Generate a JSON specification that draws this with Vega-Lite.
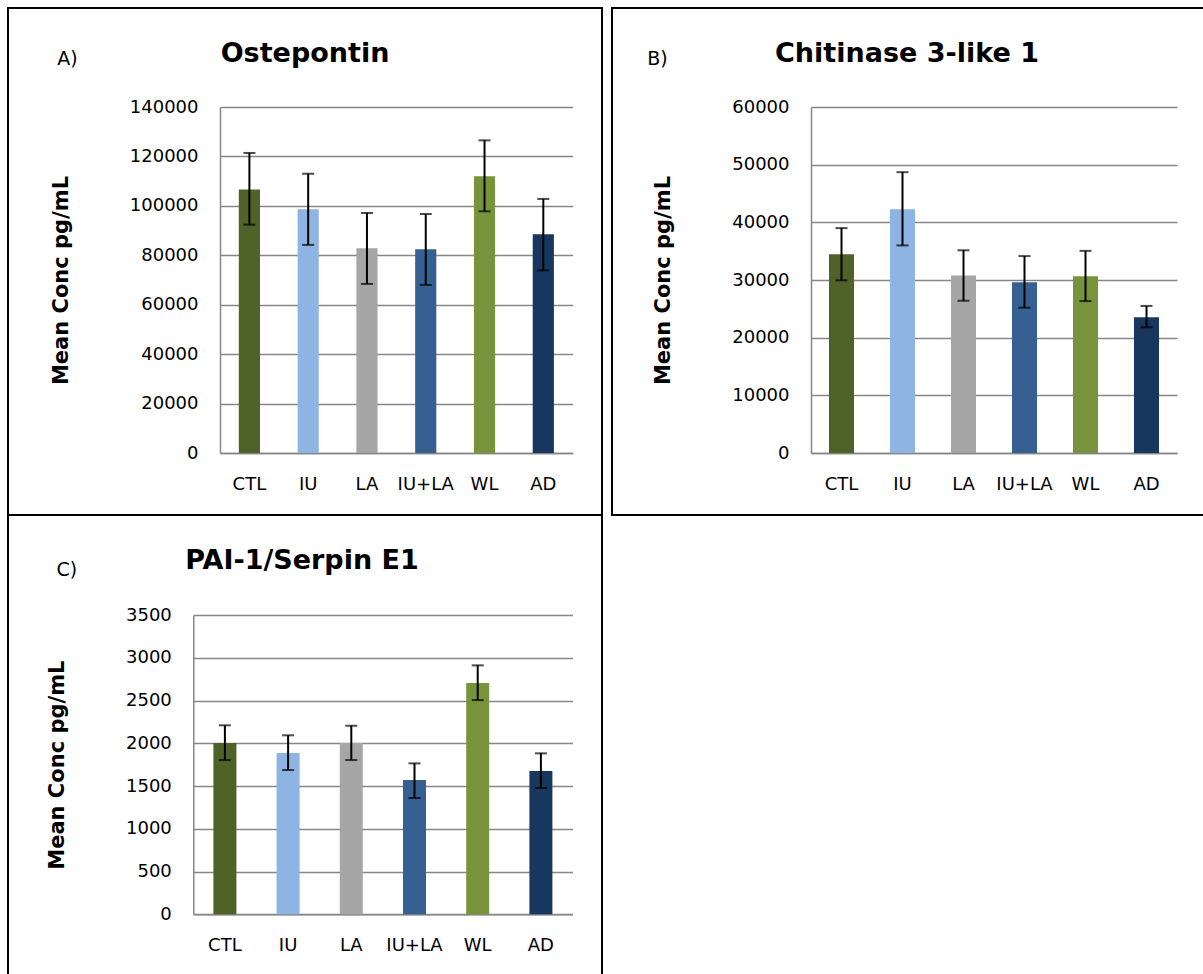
{
  "$schema": "https://vega.github.io/schema/vega-lite/v6.json",
  "padding": {"left": 7, "top": 7, "right": -2, "bottom": -2},
  "background": "white",
  "config": {
    "view": {"stroke": "black", "strokeWidth": 2, "fill": "white"},
    "font": "DejaVu Sans",
    "axis": {"labelFont": "DejaVu Sans", "labelFontSize": 18, "labelColor": "black", "titleFont": "DejaVu Sans", "titleFontSize": 21, "titleFontWeight": "bold", "titleColor": "black"},
    "title": {"font": "DejaVu Sans", "color": "black"}
  },
  "datasets": {
    "osteopontin": [
      {"group": "CTL", "mean": 106600, "lo": 92400, "hi": 121400},
      {"group": "IU", "mean": 98600, "lo": 84200, "hi": 113000},
      {"group": "LA", "mean": 82800, "lo": 68400, "hi": 97100},
      {"group": "IU+LA", "mean": 82400, "lo": 68000, "hi": 96700},
      {"group": "WL", "mean": 112000, "lo": 97800, "hi": 126500},
      {"group": "AD", "mean": 88500, "lo": 73900, "hi": 102800}
    ],
    "chitinase": [
      {"group": "CTL", "mean": 34450, "lo": 29950, "hi": 39000},
      {"group": "IU", "mean": 42250, "lo": 36000, "hi": 48700},
      {"group": "LA", "mean": 30800, "lo": 26400, "hi": 35150},
      {"group": "IU+LA", "mean": 29600, "lo": 25200, "hi": 34150},
      {"group": "WL", "mean": 30650, "lo": 26350, "hi": 35050},
      {"group": "AD", "mean": 23550, "lo": 21800, "hi": 25500}
    ],
    "pai1": [
      {"group": "CTL", "mean": 2003, "lo": 1804, "hi": 2210},
      {"group": "IU", "mean": 1886, "lo": 1687, "hi": 2093},
      {"group": "LA", "mean": 2003, "lo": 1804, "hi": 2205},
      {"group": "IU+LA", "mean": 1570, "lo": 1360, "hi": 1765},
      {"group": "WL", "mean": 2704, "lo": 2505, "hi": 2911},
      {"group": "AD", "mean": 1675, "lo": 1477, "hi": 1882}
    ]
  },
  "bounds": "flush",
  "columns": 2,
  "spacing": {"row": 0, "column": 10},
  "concat": [
    {
      "width": 594,
      "height": 507,
      "title": {"text": "Ostepontin", "anchor": "middle", "frame": "group", "orient": "top", "baseline": "alphabetic", "offset": -81, "fontSize": 27, "fontWeight": "bold"},
      "data": {"name": "osteopontin"},
      "resolve": {"axis": {"x": "independent"}},
      "layer": [
        {
          "encoding": {
            "x": {"field": "group", "type": "nominal", "sort": ["CTL", "IU", "LA", "IU+LA", "WL", "AD"],
              "scale": {"range": [212, 564.7], "paddingInner": 0, "paddingOuter": 0},
              "axis": {"title": null, "offset": -62, "labelAngle": 0, "labelPadding": 22, "ticks": false, "grid": false, "domainColor": "#868686", "domainWidth": 1.5}}
          },
          "layer": [
            {
              "mark": {"type": "bar", "width": {"band": 0.36}},
              "encoding": {
                "y": {"field": "mean", "type": "quantitative",
                  "scale": {"domain": [0, 140000], "range": [445, 99], "nice": false, "zero": true},
                  "axis": {"title": "Mean Conc pg/mL", "offset": -212, "values": [0, 20000, 40000, 60000, 80000, 100000, 120000, 140000], "format": "d", "ticks": false, "labelPadding": 22, "titlePadding": 58, "grid": true, "gridColor": "#868686", "gridWidth": 1.5, "domainColor": "#868686", "domainWidth": 1.5}},
                "color": {"field": "group", "type": "nominal", "scale": {"domain": ["CTL", "IU", "LA", "IU+LA", "WL", "AD"], "range": ["#4F6228", "#8EB4E3", "#A6A6A6", "#366092", "#77933C", "#17375E"]}, "legend": null}
              }
            },
            {
              "mark": {"type": "tick", "color": "black", "thickness": 2, "size": 12},
              "encoding": {"y": {"field": "lo", "type": "quantitative"}}
            },
            {
              "mark": {"type": "tick", "color": "black", "thickness": 2, "size": 12},
              "encoding": {"y": {"field": "hi", "type": "quantitative"}}
            }
          ]
        },
        {
          "mark": {"type": "rule", "color": "black", "strokeWidth": 2},
          "encoding": {
            "x": {"field": "group", "type": "nominal", "sort": ["CTL", "IU", "LA", "IU+LA", "WL", "AD"],
              "axis": {"orient": "top", "offset": 0, "labels": false, "ticks": false, "domain": false, "grid": false, "title": "A)", "titleX": 48.7, "titleY": 56.3, "titleAlign": "left", "titleBaseline": "alphabetic", "titleAngle": 0, "titleFontSize": 19, "titleFontWeight": "normal"}},
            "y": {"field": "lo", "type": "quantitative"},
            "y2": {"field": "hi"}
          }
        }
      ]
    },
    {
      "width": 592,
      "height": 507,
      "title": {"text": "Chitinase 3-like 1", "anchor": "middle", "frame": "group", "orient": "top", "baseline": "alphabetic", "offset": -81, "dx": -1, "fontSize": 27, "fontWeight": "bold"},
      "data": {"name": "chitinase"},
      "resolve": {"axis": {"x": "independent"}},
      "layer": [
        {
          "encoding": {
            "x": {"field": "group", "type": "nominal", "sort": ["CTL", "IU", "LA", "IU+LA", "WL", "AD"],
              "scale": {"range": [199, 565], "paddingInner": 0, "paddingOuter": 0},
              "axis": {"title": null, "offset": -62, "labelAngle": 0, "labelPadding": 22, "ticks": false, "grid": false, "domainColor": "#868686", "domainWidth": 1.5}}
          },
          "layer": [
            {
              "mark": {"type": "bar", "width": {"band": 0.41}},
              "encoding": {
                "y": {"field": "mean", "type": "quantitative",
                  "scale": {"domain": [0, 60000], "range": [445, 99], "nice": false, "zero": true},
                  "axis": {"title": "Mean Conc pg/mL", "offset": -199, "values": [0, 10000, 20000, 30000, 40000, 50000, 60000], "format": "d", "ticks": false, "labelPadding": 22, "titlePadding": 58, "grid": true, "gridColor": "#868686", "gridWidth": 1.5, "domainColor": "#868686", "domainWidth": 1.5}},
                "color": {"field": "group", "type": "nominal", "scale": {"domain": ["CTL", "IU", "LA", "IU+LA", "WL", "AD"], "range": ["#4F6228", "#8EB4E3", "#A6A6A6", "#366092", "#77933C", "#17375E"]}, "legend": null}
              }
            },
            {
              "mark": {"type": "tick", "color": "black", "thickness": 2, "size": 12},
              "encoding": {"y": {"field": "lo", "type": "quantitative"}}
            },
            {
              "mark": {"type": "tick", "color": "black", "thickness": 2, "size": 12},
              "encoding": {"y": {"field": "hi", "type": "quantitative"}}
            }
          ]
        },
        {
          "mark": {"type": "rule", "color": "black", "strokeWidth": 2},
          "encoding": {
            "x": {"field": "group", "type": "nominal", "sort": ["CTL", "IU", "LA", "IU+LA", "WL", "AD"],
              "axis": {"orient": "top", "offset": 0, "labels": false, "ticks": false, "domain": false, "grid": false, "title": "B)", "titleX": 34.7, "titleY": 56.3, "titleAlign": "left", "titleBaseline": "alphabetic", "titleAngle": 0, "titleFontSize": 19, "titleFontWeight": "normal"}},
            "y": {"field": "lo", "type": "quantitative"},
            "y2": {"field": "hi"}
          }
        }
      ]
    },
    {
      "width": 594,
      "height": 460,
      "title": {"text": "PAI-1/Serpin E1", "anchor": "middle", "frame": "group", "orient": "top", "baseline": "alphabetic", "offset": -81, "dx": -3, "fontSize": 27, "fontWeight": "bold"},
      "data": {"name": "pai1"},
      "resolve": {"axis": {"x": "independent"}},
      "layer": [
        {
          "encoding": {
            "x": {"field": "group", "type": "nominal", "sort": ["CTL", "IU", "LA", "IU+LA", "WL", "AD"],
              "scale": {"range": [185.3, 564.5], "paddingInner": 0, "paddingOuter": 0},
              "axis": {"title": null, "offset": -60.7, "labelAngle": 0, "labelPadding": 22, "ticks": false, "grid": false, "domainColor": "#868686", "domainWidth": 1.5}}
          },
          "layer": [
            {
              "mark": {"type": "bar", "width": {"band": 0.364}},
              "encoding": {
                "y": {"field": "mean", "type": "quantitative",
                  "scale": {"domain": [0, 3500], "range": [399.3, 100], "nice": false, "zero": true},
                  "axis": {"title": "Mean Conc pg/mL", "offset": -185.3, "values": [0, 500, 1000, 1500, 2000, 2500, 3000, 3500], "format": "d", "ticks": false, "labelPadding": 22, "titlePadding": 58, "grid": true, "gridColor": "#868686", "gridWidth": 1.5, "domainColor": "#868686", "domainWidth": 1.5}},
                "color": {"field": "group", "type": "nominal", "scale": {"domain": ["CTL", "IU", "LA", "IU+LA", "WL", "AD"], "range": ["#4F6228", "#8EB4E3", "#A6A6A6", "#366092", "#77933C", "#17375E"]}, "legend": null}
              }
            },
            {
              "mark": {"type": "tick", "color": "black", "thickness": 2, "size": 12},
              "encoding": {"y": {"field": "lo", "type": "quantitative"}}
            },
            {
              "mark": {"type": "tick", "color": "black", "thickness": 2, "size": 12},
              "encoding": {"y": {"field": "hi", "type": "quantitative"}}
            }
          ]
        },
        {
          "mark": {"type": "rule", "color": "black", "strokeWidth": 2},
          "encoding": {
            "x": {"field": "group", "type": "nominal", "sort": ["CTL", "IU", "LA", "IU+LA", "WL", "AD"],
              "axis": {"orient": "top", "offset": 0, "labels": false, "ticks": false, "domain": false, "grid": false, "title": "C)", "titleX": 48, "titleY": 60, "titleAlign": "left", "titleBaseline": "alphabetic", "titleAngle": 0, "titleFontSize": 19, "titleFontWeight": "normal"}},
            "y": {"field": "lo", "type": "quantitative"},
            "y2": {"field": "hi"}
          }
        }
      ]
    }
  ]
}
